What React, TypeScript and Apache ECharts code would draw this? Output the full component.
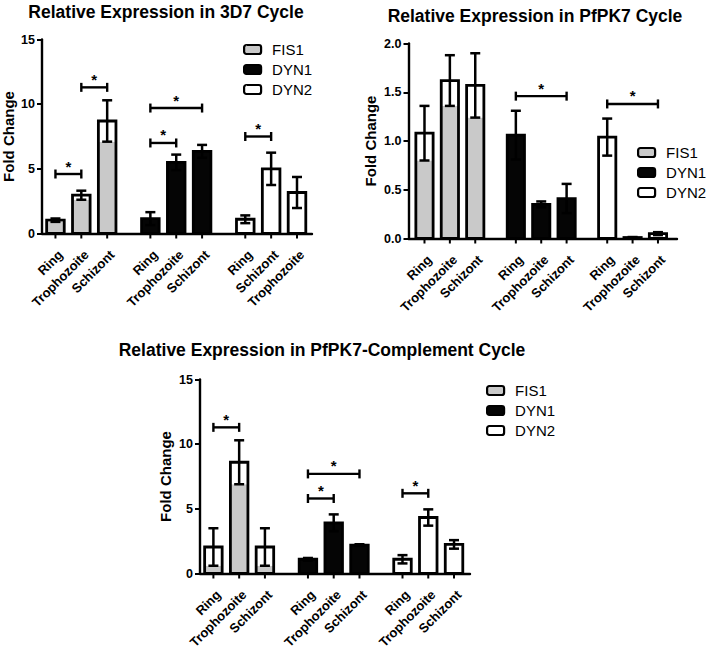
import React, { useEffect, useRef } from 'react';
import * as echarts from 'echarts';

const FONT = '"Liberation Sans", Arial, Helvetica, sans-serif';

const genes = ['FIS1', 'DYN1', 'DYN2'];
const geneColors = ['#c9c9c9', '#050505', '#ffffff'];

// ---------- Panel 1: 3D7 ----------
const p1Title = 'Relative Expression in 3D7 Cycle';
const p1Stages = [
  ['Ring', 'Trophozoite', 'Schizont'],
  ['Ring', 'Trophozoite', 'Schizont'],
  ['Ring', 'Schizont', 'Trophozoite'],
];
const p1FIS1 = [1.03, 2.96, 8.7];
const p1FIS1Err = [0.13, 0.35, 1.6];
const p1DYN1 = [1.15, 5.5, 6.35];
const p1DYN1Err = [0.5, 0.6, 0.5];
const p1DYN2 = [1.1, 5.0, 3.17];
const p1DYN2Err = [0.3, 1.25, 1.2];
// [fromBar, toBar, height]
const p1Brackets = [
  [0, 1, 4.6],
  [1, 2, 11.3],
  [3, 4, 7.0],
  [3, 5, 9.7],
  [6, 7, 7.5],
];
const p1YTicks = [0, 5, 10, 15];

// ---------- Panel 2: PfPK7 ----------
const p2Title = 'Relative Expression in PfPK7 Cycle';
const p2Stages = [
  ['Ring', 'Trophozoite', 'Schizont'],
  ['Ring', 'Trophozoite', 'Schizont'],
  ['Ring', 'Trophozoite', 'Schizont'],
];
const p2FIS1 = [1.08, 1.62, 1.57];
const p2FIS1Err = [0.28, 0.26, 0.33];
const p2DYN1 = [1.06, 0.35, 0.41];
const p2DYN1Err = [0.25, 0.03, 0.15];
const p2DYN2 = [1.04, 0.01, 0.05];
const p2DYN2Err = [0.19, 0.005, 0.015];
const p2Brackets = [
  [3, 5, 1.46],
  [6, 8, 1.38],
];
const p2YTicks = [0, 0.5, 1.0, 1.5, 2.0];

// ---------- Panel 3: PfPK7-Complement ----------
const p3Title = 'Relative Expression in PfPK7-Complement Cycle';
const p3Stages = [
  ['Ring', 'Trophozoite', 'Schizont'],
  ['Ring', 'Trophozoite', 'Schizont'],
  ['Ring', 'Trophozoite', 'Schizont'],
];
const p3FIS1 = [2.05, 8.6, 2.05];
const p3FIS1Err = [1.45, 1.7, 1.45];
const p3DYN1 = [1.1, 3.92, 2.2];
const p3DYN1Err = [0.1, 0.65, 0.06];
const p3DYN2 = [1.1, 4.33, 2.25];
const p3DYN2Err = [0.32, 0.63, 0.33];
const p3Brackets = [
  [0, 1, 11.3],
  [3, 4, 5.8],
  [3, 5, 7.7],
  [6, 7, 6.2],
];
const p3YTicks = [0, 5, 10, 15];

const panels = [
  {
    title: p1Title, stages: p1Stages,
    values: [p1FIS1, p1DYN1, p1DYN2], errors: [p1FIS1Err, p1DYN1Err, p1DYN2Err],
    brackets: p1Brackets, yTicks: p1YTicks, decimals: 0,
    layout: { left: 42, right: 312, top: 39.5, bottom: 233.5, groupStep: 3.67, xMin: -0.52, xMax: 9.92,
      titleX: 166, titleY: 12, nameGap: 26, legendLeft: 243, legendTop: 42 },
  },
  {
    title: p2Title, stages: p2Stages,
    values: [p2FIS1, p2DYN1, p2DYN2], errors: [p2FIS1Err, p2DYN1Err, p2DYN2Err],
    brackets: p2Brackets, yTicks: p2YTicks, decimals: 1,
    layout: { left: 408.5, right: 677, top: 43.5, bottom: 238.5, groupStep: 3.6, xMin: -0.63, xMax: 9.95,
      titleX: 535, titleY: 16, nameGap: 31, legendLeft: 637, legendTop: 145 },
  },
  {
    title: p3Title, stages: p3Stages,
    values: [p3FIS1, p3DYN1, p3DYN2], errors: [p3FIS1Err, p3DYN1Err, p3DYN2Err],
    brackets: p3Brackets, yTicks: p3YTicks, decimals: 0,
    layout: { left: 200, right: 470, top: 379.5, bottom: 573.5, groupStep: 3.67, xMin: -0.52, xMax: 9.96,
      titleX: 322, titleY: 350, nameGap: 27, legendLeft: 486, legendTop: 383 },
  },
];

function buildOption() {
  const grid: any[] = [];
  const xAxis: any[] = [];
  const yAxis: any[] = [];
  const series: any[] = [];
  const legend: any[] = [];
  const graphic: any[] = [];

  panels.forEach((p, k) => {
    const L = p.layout;
    const pos = (idx: number) => Math.floor(idx / 3) * L.groupStep + (idx % 3);
    const yMax = p.yTicks[p.yTicks.length - 1];
    const yInt = p.yTicks[1] - p.yTicks[0];

    grid.push({ left: L.left, top: L.top, width: L.right - L.left, height: L.bottom - L.top, containLabel: false });
    xAxis.push({
      type: 'value', gridIndex: k, min: L.xMin, max: L.xMax,
      axisLine: { show: true, onZero: false, lineStyle: { color: '#000', width: 2.4 } },
      axisTick: { show: false }, axisLabel: { show: false }, splitLine: { show: false },
    });
    yAxis.push({
      type: 'value', gridIndex: k, min: 0, max: yMax, interval: yInt,
      axisLine: { show: true, onZero: false, lineStyle: { color: '#000', width: 2.4 } },
      axisTick: { show: true, length: 5, lineStyle: { color: '#000', width: 2 } },
      axisLabel: {
        color: '#000', fontWeight: 'bold', fontSize: 12.5, fontFamily: FONT, margin: 7,
        formatter: (v: number) => v.toFixed(p.decimals),
      },
      splitLine: { show: false },
      name: 'Fold Change', nameLocation: 'middle', nameRotate: 90, nameGap: L.nameGap,
      nameTextStyle: { color: '#000', fontWeight: 'bold', fontSize: 15, fontFamily: FONT },
    });

    genes.forEach((gene, g) => {
      const vals = p.values[g];
      const errs = p.errors[g];
      const labels = p.stages[g];
      series.push({
        type: 'custom', name: gene, xAxisIndex: k, yAxisIndex: k,
        itemStyle: { color: geneColors[g] },
        encode: { x: 0, y: 1 },
        data: vals.map((v, i) => [pos(g * 3 + i), v, errs[i]]),
        renderItem: (params: any, api: any) => {
          const x = api.value(0);
          const v = api.value(1);
          const e = api.value(2);
          const base = api.coord([x, 0]);
          const px = base[0];
          const py0 = base[1];
          const pyTop = api.coord([x, v])[1];
          const pyLow = api.coord([x, Math.max(0, v - e)])[1];
          const pyHigh = api.coord([x, v + e])[1];
          const bw = api.size([1, 0])[0] * 0.68;
          const left = px - bw / 2;
          const capW = 5;
          const children: any[] = [];
          if (g === 0) {
            children.push({ type: 'rect', shape: { x: left, y: pyLow, width: bw, height: py0 - pyLow }, style: { fill: geneColors[0] } });
            children.push({ type: 'rect', shape: { x: left, y: pyTop, width: bw, height: pyLow - pyTop }, style: { fill: '#fff' } });
          } else {
            children.push({ type: 'rect', shape: { x: left, y: pyTop, width: bw, height: py0 - pyTop }, style: { fill: geneColors[g] } });
          }
          children.push({ type: 'rect', shape: { x: left, y: pyTop, width: bw, height: py0 - pyTop }, style: { fill: 'none', stroke: '#000', lineWidth: 2.8 } });
          children.push({ type: 'line', shape: { x1: px, y1: pyHigh, x2: px, y2: pyLow }, style: { stroke: '#000', lineWidth: 2.5 } });
          children.push({ type: 'line', shape: { x1: px - capW, y1: pyHigh, x2: px + capW, y2: pyHigh }, style: { stroke: '#000', lineWidth: 2.5 } });
          children.push({ type: 'line', shape: { x1: px - capW, y1: pyLow, x2: px + capW, y2: pyLow }, style: { stroke: '#000', lineWidth: 2.5 } });
          children.push({ type: 'line', shape: { x1: px, y1: py0, x2: px, y2: py0 + 5 }, style: { stroke: '#000', lineWidth: 2 } });
          children.push({
            type: 'text', x: px + 5, y: py0 + 19, rotation: Math.PI / 4,
            style: { text: labels[params.dataIndex], font: `bold 13px ${FONT}`, fill: '#000', align: 'right', verticalAlign: 'middle' },
          });
          return { type: 'group', children };
        },
        z: 2,
      });
    });

    series.push({
      type: 'custom', xAxisIndex: k, yAxisIndex: k,
      encode: { x: [0, 1], y: 2 },
      data: p.brackets.map((b) => [pos(b[0]), pos(b[1]), b[2]]),
      renderItem: (params: any, api: any) => {
        const a = api.coord([api.value(0), api.value(2)]);
        const b = api.coord([api.value(1), api.value(2)]);
        const st = { stroke: '#000', lineWidth: 2.4 };
        return {
          type: 'group',
          children: [
            { type: 'line', shape: { x1: a[0], y1: a[1], x2: b[0], y2: b[1] }, style: st },
            { type: 'line', shape: { x1: a[0], y1: a[1] - 4.5, x2: a[0], y2: a[1] + 4.5 }, style: st },
            { type: 'line', shape: { x1: b[0], y1: b[1] - 4.5, x2: b[0], y2: b[1] + 4.5 }, style: st },
            {
              type: 'text', x: (a[0] + b[0]) / 2, y: a[1] - 8,
              style: { text: '*', font: `bold 15px ${FONT}`, fill: '#000', align: 'center', verticalAlign: 'middle' },
            },
          ],
        };
      },
      z: 3,
    });

    legend.push({
      data: genes, orient: 'vertical', left: L.legendLeft, top: L.legendTop, padding: 0,
      itemWidth: 17, itemHeight: 9, itemGap: 5, icon: 'roundRect', selectedMode: false,
      itemStyle: { borderColor: '#000', borderWidth: 2.2 },
      textStyle: { color: '#000', fontSize: 15, fontFamily: FONT, lineHeight: 15, padding: [0, 0, 0, 6] },
    });

    graphic.push({
      type: 'text', x: L.titleX, y: L.titleY,
      style: { text: p.title, font: `bold 17.5px ${FONT}`, fill: '#000', align: 'center', verticalAlign: 'middle' },
    });
  });

  return { animation: false, backgroundColor: '#fff', grid, xAxis, yAxis, series, legend, graphic };
}

export default function App() {
  const ref = useRef<HTMLDivElement>(null);
  useEffect(() => {
    if (!ref.current) return;
    const chart = echarts.init(ref.current, undefined, { renderer: 'svg' });
    chart.setOption(buildOption() as any);
    return () => chart.dispose();
  }, []);
  return (
    <div
      ref={ref}
      style={{ position: 'fixed', left: 0, top: 0, width: 709, height: 653, background: '#fff' }}
    />
  );
}
